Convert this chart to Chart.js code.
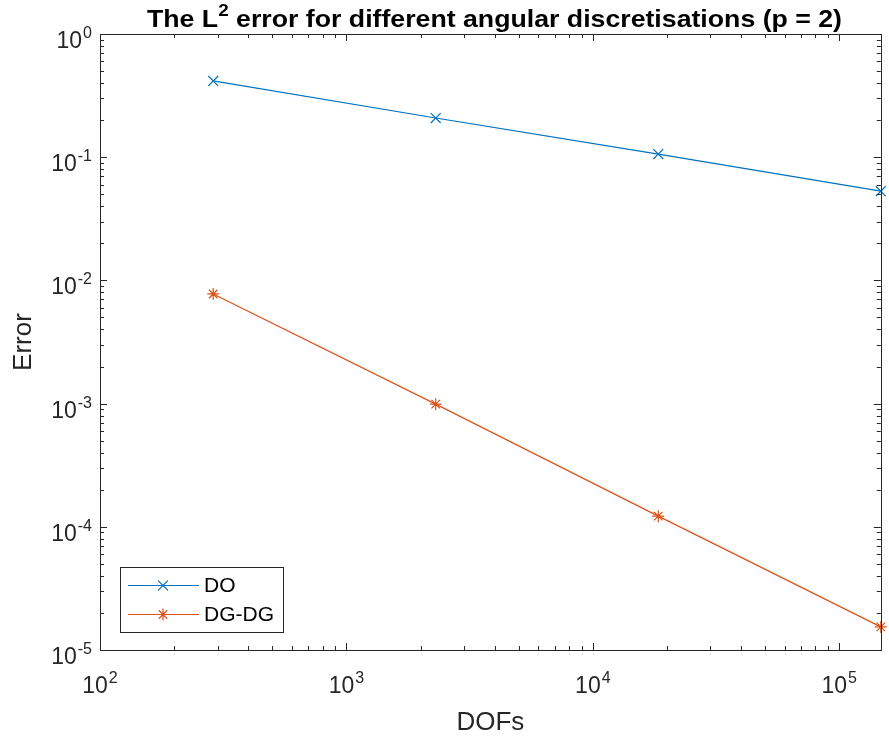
<!DOCTYPE html>
<html>
<head>
<meta charset="utf-8">
<script src="https://cdn.jsdelivr.net/npm/chart.js@4.4.0/dist/chart.umd.min.js"></script>
<style>
  html, body { margin: 0; padding: 0; background: #fff; }
  #wrap { width: 889px; height: 738px; position: relative; }
</style>
</head>
<body>
<div id="wrap"><canvas id="errChart"></canvas></div>
<script>
// --- data ---
const dofs = [288, 2304, 18432, 147456];
const errDO = [0.416, 0.208, 0.106, 0.053];
const errDGDG = [0.00776, 0.00099, 0.000122, 0.0000154];
const seriesNames = ['DO', 'DG-DG'];
const xDecades = [2, 3, 4, 5];
const yDecades = [0, -1, -2, -3, -4, -5];

const AX = '#262626';
const FONT = '"Liberation Sans", Arial, Helvetica, sans-serif';
const C_DO = '#0072BD';
const C_DG = '#D95319';

const pts = (ys) => dofs.map((x, i) => ({ x, y: ys[i] }));

// draws "10" with a raised exponent; align: 'center' or 'right'
const drawPow = (ctx, exp, x, y, align) => {
  const base = '10', sup = String(exp);
  ctx.font = '23px ' + FONT;
  const wb = ctx.measureText(base).width;
  ctx.font = '16px ' + FONT;
  const ws = ctx.measureText(sup).width;
  const total = wb + ws + 1;
  const x0 = align === 'right' ? x - total : x - total / 2;
  ctx.textAlign = 'left';
  ctx.textBaseline = 'alphabetic';
  ctx.font = '23px ' + FONT;
  ctx.fillText(base, x0, y);
  ctx.font = '16px ' + FONT;
  ctx.fillText(sup, x0 + wb + 1, y - 10);
};

const matlabAxes = {
  id: 'matlabAxes',
  beforeDraw(chart) {
    const { ctx } = chart;
    ctx.save();
    ctx.fillStyle = '#fff';
    ctx.fillRect(0, 0, chart.width, chart.height);
    ctx.restore();
  },
  afterDraw(chart) {
    const { ctx, chartArea: a, scales } = chart;
    const xs = scales.x, ys = scales.y;
    ctx.save();
    ctx.strokeStyle = AX;
    ctx.fillStyle = AX;
    ctx.lineWidth = 1;

    // box
    ctx.strokeRect(Math.round(a.left) + 0.5, Math.round(a.top) + 0.5,
      Math.round(a.right - a.left), Math.round(a.bottom - a.top));

    // ticks (inside, on all four sides)
    const tick = (x1, y1, x2, y2) => { ctx.beginPath(); ctx.moveTo(x1, y1); ctx.lineTo(x2, y2); ctx.stroke(); };
    const xMin = xs.min, xMax = xs.max;
    for (let d = 2; d <= 5; d++) {
      for (let m = 1; m <= 9; m++) {
        const v = m * Math.pow(10, d);
        if (v < xMin || v > xMax) continue;
        const px = Math.round(xs.getPixelForValue(v)) + 0.5;
        const len = m === 1 ? 7 : 4;
        tick(px, a.bottom, px, a.bottom - len);
        tick(px, a.top, px, a.top + len);
      }
    }
    for (let d = -5; d <= 0; d++) {
      for (let m = 1; m <= 9; m++) {
        const v = m * Math.pow(10, d);
        if (v < ys.min * 0.999 || v > ys.max * 1.001) continue;
        const py = Math.round(ys.getPixelForValue(v)) + 0.5;
        const len = m === 1 ? 7 : 4;
        tick(a.left, py, a.left + len, py);
        tick(a.right, py, a.right - len, py);
      }
    }

    // tick labels
    xDecades.forEach(d => drawPow(ctx, d, xs.getPixelForValue(Math.pow(10, d)), a.bottom + 43, 'center'));
    yDecades.forEach(d => drawPow(ctx, d, a.left - 8, ys.getPixelForValue(Math.pow(10, d)) + 14, 'right'));

    // axis labels
    ctx.font = '26px ' + FONT;
    ctx.textAlign = 'center';
    ctx.textBaseline = 'alphabetic';
    ctx.fillText('DOFs', (a.left + a.right) / 2, 730);
    ctx.save();
    ctx.translate(31, (a.top + a.bottom) / 2);
    ctx.rotate(-Math.PI / 2);
    ctx.fillText('Error', 0, 0);
    ctx.restore();

    // title with superscript
    const t1 = 'The L', t2 = '2', t3 = ' error for different angular discretisations (p = 2)';
    ctx.font = 'bold 24px ' + FONT;
    const w1 = ctx.measureText(t1).width, w3 = ctx.measureText(t3).width;
    ctx.font = 'bold 17px ' + FONT;
    const w2 = ctx.measureText(t2).width;
    const tw = w1 + w2 + w3;
    const target = 695;
    const sx = target / tw;
    ctx.save();
    ctx.translate(147, 27);
    ctx.scale(sx, 1);
    ctx.textAlign = 'left';
    ctx.fillStyle = '#000';
    ctx.font = 'bold 24px ' + FONT;
    ctx.fillText(t1, 0, 0);
    ctx.font = 'bold 17px ' + FONT;
    ctx.fillText(t2, w1, -11);
    ctx.font = 'bold 24px ' + FONT;
    ctx.fillText(t3, w1 + w2, 0);
    ctx.restore();

    // legend
    const lx = 120.5, ly = 567.5, lw = 163, lh = 65;
    ctx.fillStyle = '#fff';
    ctx.fillRect(lx, ly, lw, lh);
    ctx.strokeStyle = AX;
    ctx.strokeRect(lx, ly, lw, lh);
    chart.data.datasets.forEach((ds, i) => {
      const yy = ly + 18 + i * 29;
      ctx.strokeStyle = ds.borderColor;
      ctx.lineWidth = 1.2;
      tick(128, yy, 199, yy);
      Chart.helpers.drawPoint(ctx, {
        pointStyle: ds.pointStyle, radius: ds.pointRadius, rotation: 0, borderWidth: 1.2
      }, 163, yy);
      ctx.fillStyle = '#000';
      ctx.font = '21px ' + FONT;
      ctx.textAlign = 'left';
      ctx.textBaseline = 'middle';
      ctx.fillText(ds.label, 204, yy + 1);
    });
    ctx.restore();
  }
};

new Chart(document.getElementById('errChart'), {
  type: 'line',
  data: {
    datasets: [
      { label: seriesNames[0], data: pts(errDO), borderColor: C_DO, backgroundColor: C_DO,
        borderWidth: 1.2, pointStyle: 'crossRot', pointRadius: 7, pointBorderWidth: 1.2, clip: false },
      { label: seriesNames[1], data: pts(errDGDG), borderColor: C_DG, backgroundColor: C_DG,
        borderWidth: 1.2, pointStyle: 'star', pointRadius: 6, pointBorderWidth: 1.2, clip: false }
    ]
  },
  options: {
    responsive: true, maintainAspectRatio: false, animation: false,
    layout: { padding: { left: 100, right: 6, top: 34, bottom: 88 } },
    plugins: { legend: { display: false }, title: { display: false }, tooltip: { enabled: false } },
    scales: {
      x: { type: 'logarithmic', min: 100, max: dofs[dofs.length - 1], display: false },
      y: { type: 'logarithmic', min: 1e-5, max: 1, display: false }
    }
  },
  plugins: [matlabAxes]
});
</script>
</body>
</html>
